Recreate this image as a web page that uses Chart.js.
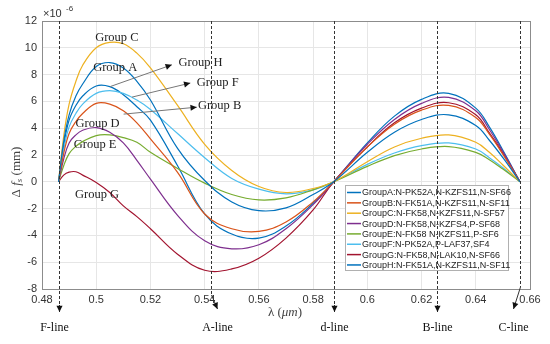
<!DOCTYPE html>
<html>
<head>
<meta charset="utf-8">
<script src="https://cdn.jsdelivr.net/npm/chart.js@4.4.1/dist/chart.umd.min.js"></script>
<style>
  body { margin: 0; background: #fff; }
  #wrap { width: 550px; height: 344px; }
</style>
</head>
<body>
<div id="wrap"><canvas id="chart"></canvas></div>
<script>
// wavelength samples (um)
const wl = [0.4861, 0.488, 0.49, 0.4925, 0.495, 0.50, 0.505, 0.51, 0.515, 0.52, 0.53, 0.54, 0.55, 0.56, 0.57, 0.58, 0.5876, 0.60, 0.61, 0.62, 0.63, 0.64, 0.645, 0.65, 0.6563];

// delta f_s (x1e-6 mm)
const groupA = [0, 3.0, 5.0, 6.4, 7.3, 8.6, 8.9, 8.5, 7.5, 6.1, 2.5, 0.1, -1.5, -2.15, -1.95, -0.95, 0, 2.2, 3.7, 4.65, 5.0, 4.2, 3.1, 1.8, 0];
const groupB = [0, 2.1, 3.6, 4.5, 5.1, 5.85, 5.8, 5.3, 4.4, 3.2, 0.7, -2.4, -3.5, -3.7, -3.0, -1.5, 0, 2.6, 4.3, 5.35, 5.7, 4.8, 3.55, 2.05, 0];
const groupC = [0, 3.4, 5.8, 7.5, 8.7, 10.0, 10.4, 10.3, 9.6, 8.5, 5.7, 2.8, 0.85, -0.35, -0.8, -0.5, 0, 1.5, 2.6, 3.25, 3.5, 2.95, 2.2, 1.25, 0];
const groupD = [0, 1.7, 2.9, 3.5, 3.85, 4.05, 3.7, 2.9, 1.6, 0.2, -2.5, -4.4, -5.0, -4.7, -3.5, -1.7, 0, 2.8, 4.65, 5.85, 6.3, 5.3, 3.9, 2.25, 0];
const groupE = [0, 1.2, 2.1, 2.65, 3.0, 3.45, 3.5, 3.3, 2.95, 2.2, 1.0, -0.1, -0.95, -1.35, -1.2, -0.6, 0, 1.15, 1.95, 2.45, 2.63, 2.2, 1.65, 0.95, 0];
const groupF = [0, 2.4, 4.1, 5.1, 5.8, 6.6, 6.8, 6.6, 6.1, 5.4, 3.6, 1.8, 0.25, -0.55, -0.9, -0.6, 0, 1.3, 2.15, 2.7, 2.9, 2.45, 1.8, 1.05, 0];
const groupG = [0, 0.5, 0.72, 0.75, 0.5, -0.05, -0.8, -1.8, -2.6, -3.5, -5.4, -6.6, -6.5, -5.7, -4.2, -2.1, 0, 2.6, 4.4, 5.5, 5.9, 5.0, 3.65, 2.15, 0];
const groupH = [0, 2.7, 4.6, 5.7, 6.4, 7.15, 7.1, 6.5, 5.6, 4.6, 1.2, -2.4, -3.9, -4.2, -3.3, -1.6, 0, 2.9, 4.9, 6.15, 6.6, 5.5, 4.1, 2.35, 0];

const legendLabels = [
  "GroupA:N-PK52A,N-KZFS11,N-SF66",
  "GroupB:N-FK51A,N-KZFS11,N-SF11",
  "GroupC:N-FK58,N-KZFS11,N-SF57",
  "GroupD:N-FK58,N-KZFS4,P-SF68",
  "GroupE:N-FK58 N-KZFS11,P-SF6",
  "GroupF:N-PK52A,P-LAF37,SF4",
  "GroupG:N-FK58,N-LAK10,N-SF66",
  "GroupH:N-FK51A,N-KZFS11,N-SF11"
];

// Fraunhofer lines (um)
const lineNames = ["F-line", "A-line", "d-line", "B-line", "C-line"];
const lineWl = [0.4861, 0.5424, 0.5876, 0.6257, 0.6563];

const xTicks = [0.48, 0.50, 0.52, 0.54, 0.56, 0.58, 0.60, 0.62, 0.64, 0.66];
const yTicks = [-8, -6, -4, -2, 0, 2, 4, 6, 8, 10, 12];

// styles
const colors = ["#0072BD", "#D95319", "#EDB120", "#7E2F8E", "#77AC30", "#4DBEEE", "#A2142F", "#0072BD"];
const series = [groupA, groupB, groupC, groupD, groupE, groupF, groupG, groupH];
const lineBend = [0, 6, 0, 0, -7];

// in-plot text tags, placed in data units
const tags = [
  { t: "Group C", x: 0.5076, y: 10.72 },
  { t: "Group A", x: 0.5070, y: 8.52 },
  { t: "Group H", x: 0.5385, y: 8.92 },
  { t: "Group F", x: 0.5448, y: 7.43 },
  { t: "Group B", x: 0.5455, y: 5.68 },
  { t: "Group D", x: 0.5005, y: 4.37 },
  { t: "Group E", x: 0.4996, y: 2.75 },
  { t: "Group G", x: 0.5003, y: -0.99 }
];
const tagArrows = [
  [0.5052, 7.11, 0.5279, 8.73],
  [0.5132, 6.32, 0.5347, 7.37],
  [0.5101, 5.05, 0.5371, 5.57]
];

function head(ctx, x0, y0, x1, y1, s) {
  const a = Math.atan2(y1 - y0, x1 - x0);
  ctx.beginPath();
  ctx.moveTo(x1, y1);
  ctx.lineTo(x1 - s * Math.cos(a - 0.45), y1 - s * Math.sin(a - 0.45));
  ctx.lineTo(x1 - s * Math.cos(a + 0.45), y1 - s * Math.sin(a + 0.45));
  ctx.closePath();
  ctx.fill();
}

const decor = {
  id: 'decor',
  afterDatasetsDraw(chart) {
    const { ctx, chartArea: a, scales: { x, y } } = chart;
    ctx.save();

    // box
    ctx.strokeStyle = '#8c8c8c';
    ctx.lineWidth = 1;
    ctx.strokeRect(Math.round(a.left) + 0.5, Math.round(a.top) + 0.5, Math.round(a.width), Math.round(a.height));

    // legend
    const lx = 345, ly = 185, lw = 163, lh = 85, rh = 10.35;
    ctx.fillStyle = '#fff';
    ctx.fillRect(lx, ly, lw, lh);
    ctx.strokeStyle = '#b0b0b0';
    ctx.strokeRect(lx + 0.5, ly + 0.5, lw, lh);
    ctx.font = '9px "Liberation Sans", Arial, sans-serif';
    ctx.textBaseline = 'middle';
    ctx.textAlign = 'left';
    legendLabels.forEach((t, i) => {
      const yy = ly + 7.5 + i * rh;
      ctx.strokeStyle = colors[i];
      ctx.lineWidth = 1.5;
      ctx.beginPath();
      ctx.moveTo(lx + 2, yy);
      ctx.lineTo(lx + 16, yy);
      ctx.stroke();
      ctx.fillStyle = '#222';
      ctx.fillText(t, lx + 17, yy + 0.5);
    });

    // Fraunhofer lines
    ctx.fillStyle = '#111';
    lineWl.forEach((w, i) => {
      const px = Math.round(x.getPixelForValue(w)) + 0.5;
      const b = lineBend[i];
      const yBreak = b === 0 ? a.bottom + 16 : (b > 0 ? a.bottom + 6 : a.bottom - 2);
      ctx.strokeStyle = '#333';
      ctx.lineWidth = 1;
      ctx.setLineDash([3, 2]);
      ctx.beginPath();
      ctx.moveTo(px, a.top);
      ctx.lineTo(px, yBreak);
      ctx.stroke();
      ctx.setLineDash([]);
      const tipX = px + b, tipY = a.bottom + (b === 0 ? 23 : 20);
      ctx.beginPath();
      ctx.moveTo(px, yBreak);
      ctx.lineTo(tipX, tipY);
      ctx.stroke();
      head(ctx, px, yBreak, tipX, tipY, 7);
      ctx.font = '12px "Liberation Serif", "Times New Roman", serif';
      ctx.textAlign = 'center';
      ctx.textBaseline = 'middle';
      ctx.fillText(lineNames[i], tipX - (i === 0 ? 5 : 0), a.bottom + 39);
    });

    // tag arrows
    tagArrows.forEach(([x0, y0, x1, y1]) => {
      const p0 = [x.getPixelForValue(x0), y.getPixelForValue(y0)];
      const p1 = [x.getPixelForValue(x1), y.getPixelForValue(y1)];
      ctx.strokeStyle = '#777';
      ctx.lineWidth = 1;
      ctx.beginPath();
      ctx.moveTo(p0[0], p0[1]);
      ctx.lineTo(p1[0], p1[1]);
      ctx.stroke();
      ctx.fillStyle = '#111';
      head(ctx, p0[0], p0[1], p1[0], p1[1], 7);
    });

    // tags
    ctx.fillStyle = '#222';
    ctx.font = '12.5px "Liberation Serif", "Times New Roman", serif';
    ctx.textAlign = 'center';
    ctx.textBaseline = 'middle';
    tags.forEach(g => ctx.fillText(g.t, x.getPixelForValue(g.x), y.getPixelForValue(g.y)));

    // exponent
    ctx.fillStyle = '#333';
    ctx.textAlign = 'left';
    ctx.textBaseline = 'alphabetic';
    ctx.font = '11px "Liberation Sans", Arial, sans-serif';
    ctx.fillText('\u00d710', a.left + 1, a.top - 4);
    ctx.font = '8px "Liberation Sans", Arial, sans-serif';
    ctx.fillText('-6', a.left + 24, a.top - 10);

    // x title
    ctx.fillStyle = '#444';
    ctx.textBaseline = 'middle';
    const parts = [['\u03bb (', 'normal'], ['\u03bcm', 'italic'], [')', 'normal']];
    let tw = 0;
    parts.forEach(p => { ctx.font = p[1] + ' 13px "Liberation Serif", serif'; tw += ctx.measureText(p[0]).width; });
    let cx = 285 - tw / 2;
    parts.forEach(p => {
      ctx.font = p[1] + ' 13px "Liberation Serif", serif';
      ctx.fillText(p[0], cx, a.bottom + 24);
      cx += ctx.measureText(p[0]).width;
    });

    // y title (rotated)
    ctx.translate(17, 172);
    ctx.rotate(-Math.PI / 2);
    const yp = [['\u0394 ', 'normal 13px', 0], ['f', 'italic 13px', 0], ['s', 'italic 9px', 3], [' (mm)', 'normal 13px', 0]];
    let yw = 0;
    yp.forEach(p => { ctx.font = p[1] + ' "Liberation Serif", serif'; yw += ctx.measureText(p[0]).width; });
    let cy = -yw / 2;
    yp.forEach(p => {
      ctx.font = p[1] + ' "Liberation Serif", serif';
      ctx.fillText(p[0], cy, p[2]);
      cy += ctx.measureText(p[0]).width;
    });
    ctx.restore();
  }
};

new Chart(document.getElementById('chart'), {
  type: 'line',
  data: {
    datasets: series.map((s, i) => ({
      label: legendLabels[i],
      data: wl.map((w, k) => ({ x: w, y: s[k] })),
      borderColor: colors[i],
      borderWidth: 1.2,
      pointRadius: 0,
      fill: false,
      tension: 0.4
    }))
  },
  options: {
    responsive: true,
    maintainAspectRatio: false,
    animation: false,
    layout: { padding: { top: 21, right: 20, left: 0, bottom: 0 } },
    plugins: { legend: { display: false }, tooltip: { enabled: false } },
    scales: {
      x: {
        type: 'linear',
        min: 0.48,
        max: 0.66,
        afterFit: s => { s.height = 55; },
        afterBuildTicks: s => { s.ticks = xTicks.map(v => ({ value: v })); },
        grid: { color: '#e6e6e6', tickLength: 0 },
        border: { color: '#8c8c8c' },
        ticks: {
          padding: 4,
          maxRotation: 0,
          color: '#333',
          font: { family: '"Liberation Sans", Arial, sans-serif', size: 11 },
          callback: v => String(Number(v.toFixed(2)))
        }
      },
      y: {
        min: -8,
        max: 12,
        afterFit: s => { s.width = 42; },
        afterBuildTicks: s => { s.ticks = yTicks.map(v => ({ value: v })); },
        grid: { color: '#e6e6e6', tickLength: 0 },
        border: { color: '#8c8c8c' },
        ticks: {
          padding: 5,
          color: '#333',
          font: { family: '"Liberation Sans", Arial, sans-serif', size: 11 }
        }
      }
    }
  },
  plugins: [decor]
});
</script>
</body>
</html>
